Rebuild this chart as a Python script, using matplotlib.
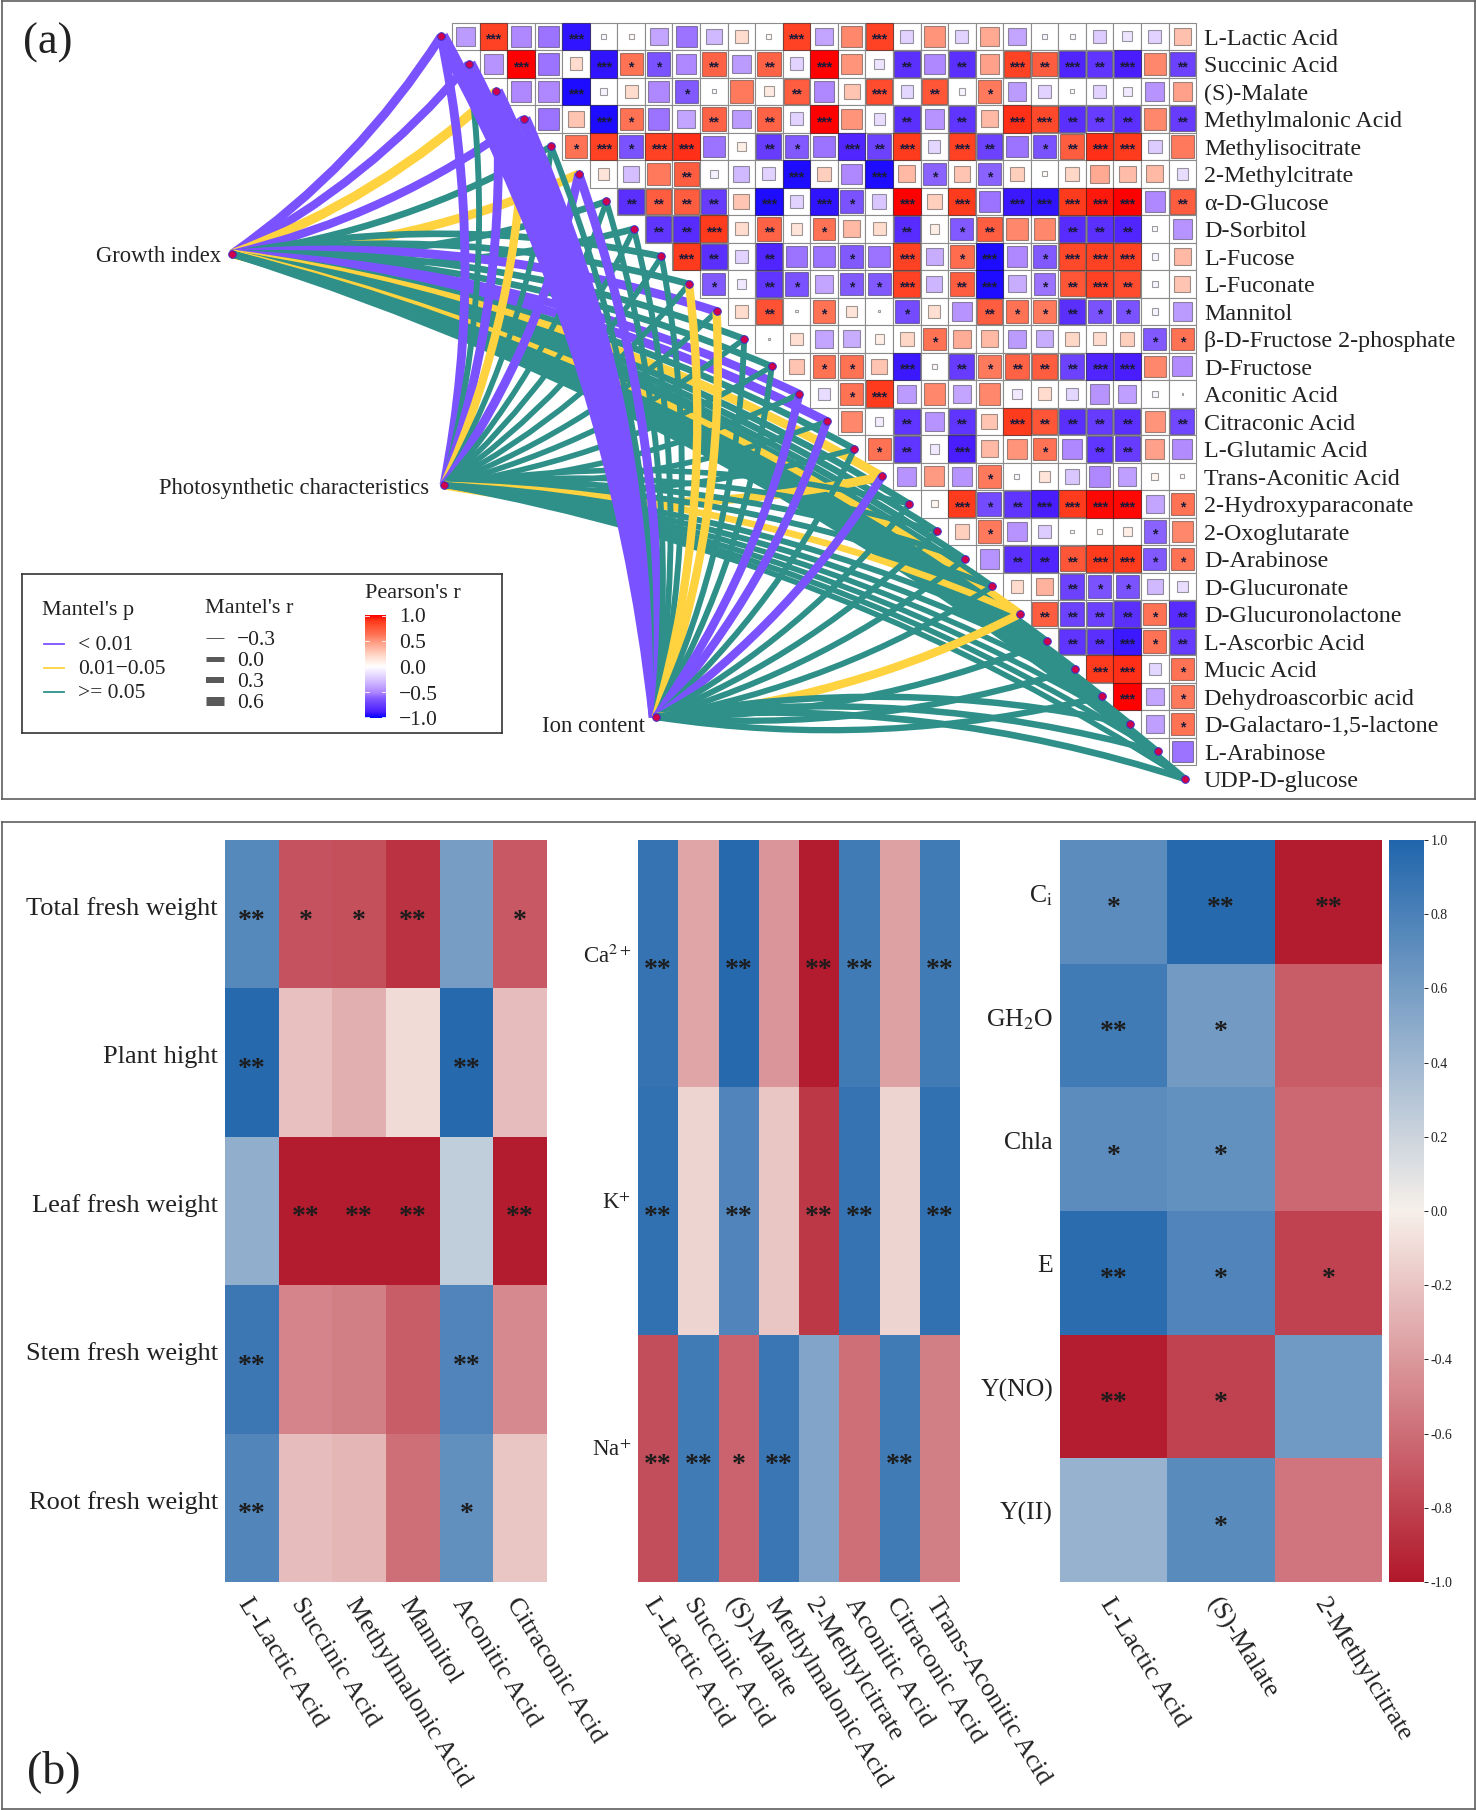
"""Mantel test network with correlation matrix (a) and metabolite heatmaps (b)."""
import numpy as np
import matplotlib
matplotlib.use('Agg')
from matplotlib import pyplot as plt
from matplotlib.colors import LinearSegmentedColormap
from matplotlib.patches import PathPatch, Rectangle
from matplotlib.path import Path
from matplotlib.transforms import ScaledTranslation

plt.rcParams['font.family'] = ['Liberation Serif', 'DejaVu Serif']
plt.rcParams['mathtext.fontset'] = 'stix'

metabolites = ['L-Lactic Acid', 'Succinic Acid', '(S)-Malate', 'Methylmalonic Acid', 'Methylisocitrate',
               '2-Methylcitrate', 'α-D-Glucose', 'D-Sorbitol', 'L-Fucose', 'L-Fuconate', 'Mannitol',
               'β-D-Fructose 2-phosphate', 'D-Fructose', 'Aconitic Acid', 'Citraconic Acid', 'L-Glutamic Acid',
               'Trans-Aconitic Acid', '2-Hydroxyparaconate', '2-Oxoglutarate', 'D-Arabinose', 'D-Glucuronate',
               'D-Glucuronolactone', 'L-Ascorbic Acid', 'Mucic Acid', 'Dehydroascorbic acid',
               'D-Galactaro-1,5-lactone', 'L-Arabinose', 'UDP-D-glucose']

# upper triangle of the correlation matrix, row i holds columns i..26
pearson_r = [
    [-.42, .85, -.5, -.55, -.92, -.03, .03, -.38, -.55, -.3, .2, .03, .85, -.38, .55, .85, -.2, .5, -.2, .42, -.38, -.04, -.03, -.22, -.12, -.2, .32],
    [-.45, 1, -.55, .2, -.92, .62, -.65, -.5, .7, -.42, .7, -.2, 1, .5, -.12, -.8, -.5, -.8, .45, .85, .72, -.85, -.78, -.88, .55, -.72],
    [-.5, -.5, -.95, -.05, .2, -.5, -.62, -.02, .6, .12, .72, -.5, .3, .8, -.18, .75, -.05, .6, -.42, -.2, .02, -.2, -.1, -.45, .45],
    [-.55, .3, -.95, .62, -.55, -.38, .7, -.42, .7, -.2, 1, .5, -.15, -.8, -.45, -.78, .35, .9, .82, -.8, -.75, -.8, .55, -.75],
    [.62, .85, -.65, .85, .9, -.55, .1, -.75, -.62, -.55, -.85, -.72, .88, -.18, .85, -.72, -.55, -.65, .72, .9, .88, -.22, .6],
    [.15, -.28, .6, .72, -.07, -.3, -.2, -.95, .25, -.5, -.95, .35, -.6, .3, -.6, .25, .03, .22, .42, .33, .35, -.15],
    [-.8, .72, .72, -.75, .3, -.95, -.2, -.92, -.65, -.25, 1, .25, .88, -.55, -.9, -.92, .88, .95, 1, -.5, .72],
    [-.78, -.82, .88, .2, .7, .15, .62, .35, .2, -.82, .1, -.62, .72, .55, .55, -.82, -.8, -.85, -.03, -.45],
    [.88, -.8, -.2, -.85, -.55, -.55, -.62, -.55, .85, -.35, .65, -.95, -.5, -.62, .82, .85, .85, -.05, .35],
    [-.62, -.1, -.78, -.65, -.38, -.62, -.62, .85, -.32, .72, -.95, -.35, -.55, .75, .85, .8, -.05, .3],
    [.2, .78, .005, .62, .15, -.005, -.68, .18, -.45, .72, .62, .6, -.8, -.65, -.65, -.05, -.42],
    [.005, .18, -.38, -.35, .1, .22, .62, .4, .35, -.42, -.35, .22, .2, .25, -.62, .62],
    [.3, .62, .62, .3, -.9, .03, -.75, .6, .7, .72, -.72, -.85, -.88, .55, -.48],
    [-.15, .62, .88, -.42, .55, -.38, .55, -.1, .2, -.18, -.45, -.4, -.04, -.003],
    [.55, -.08, -.78, -.45, -.78, .3, .88, .75, -.8, -.75, -.8, .5, -.7],
    [.62, -.78, -.1, -.88, .35, .5, .62, -.5, -.78, -.75, .45, -.48],
    [-.45, .48, -.45, .6, -.03, .15, -.25, -.5, -.4, .06, .02],
    [.06, .88, -.68, -.78, -.88, .88, .98, .98, -.38, .62],
    [.25, .6, -.45, -.22, .015, .03, .1, -.6, .55],
    [-.45, -.8, -.85, .75, .88, .88, -.62, .62],
    [.2, .38, -.72, -.65, -.65, -.3, -.15],
    [.72, -.72, -.72, -.8, .62, -.82],
    [-.78, -.8, -.9, .62, -.75],
    [.88, .9, -.18, .62],
    [1, -.38, .6],
    [-.4, .62],
    [-.55],
]
pearson_stars = [
    '030030000000300300000000000',
    '03003110202030020203232302',
    '0030001000200302010000000',
    '003100202030020203322202',
    '13133002103230320123300',
    '0002000300301010000000',
    '222203031030303333302',
    '22302010020120022200',
    '3202001030130133300',
    '102101130230123200',
    '02010010021121100',
    '0000001000000011',
    '011030212223300',
    '01300000000000',
    '0020203222202',
    '120300102200',
    '00010000000',
    '0312333301',
    '010000010',
    '02223311',
    '0021100',
    '222212',
    '22312',
    '3301',
    '301',
    '01',
    '0',
]

hubs = ['Growth index', 'Photosynthetic characteristics', 'Ion content']
hub_col = [-7.98, -0.29, 7.40]
hub_row = [8.41, 16.81, 25.25]
hub_label_dx = [-0.4, -0.55, -0.4]
hub_label_dy = [0.08, 0.13, 0.33]

# Mantel p class per metabolite: 0 < 0.01, 1 0.01-0.05, 2 >= 0.05
mantel_p = [
    [0, 0, 1, 0, 2, 1, 2, 2, 2, 2, 0, 2, 2, 0, 0, 2, 1, 2, 2, 2, 2, 1, 2, 2, 2, 2, 2, 2],
    [0, 2, 0, 1, 2, 0, 2, 2, 2, 2, 2, 2, 2, 2, 2, 2, 1, 2, 2, 2, 2, 1, 2, 2, 2, 2, 2, 2],
    [0, 0, 0, 0, 2, 0, 2, 2, 2, 1, 1, 2, 2, 0, 0, 2, 0, 2, 2, 2, 2, 1, 2, 2, 2, 2, 2, 2],
]
mantel_r = [
    [.5, .45, .55, .45, .3, .5, .3, .3, .3, .3, .5, .3, .3, .45, .5, .3, .5, .3, .3, .3, .3, .5, .3, .3, .3, .3, .3, .3],
    [.5, .1, .5, .45, 0, .5, 0, 0, 0, 0, 0, 0, 0, 0, 0, 0, .5, 0, 0, .1, .1, .3, .1, .1, 0, 0, 0, 0],
    [.9, .9, .85, .85, .1, .5, .1, .1, .1, .45, .45, .1, .1, .45, .45, .1, .45, .1, .1, .1, .1, .45, .2, .2, .2, .25, .25, .3],
]

p_labels = ['< 0.01', '0.01−0.05', '>= 0.05']
p_colors = ['#7B52FF', '#FFD23F', '#2E9089']
r_labels = ['−0.3', '0.0', '0.3', '0.6']
r_values = [-.3, 0, .3, .6]
corr_ticks = ['1.0', '0.5', '0.0', '−0.5', '−1.0']

growth_rows = ['Total fresh weight', 'Plant hight', 'Leaf fresh weight', 'Stem fresh weight', 'Root fresh weight']
growth_cols = ['L-Lactic Acid', 'Succinic Acid', 'Methylmalonic Acid', 'Mannitol', 'Aconitic Acid', 'Citraconic Acid']
growth_vals = [[.75, -.72, -.74, -.87, .6, -.7],
               [.97, -.22, -.3, -.1, .97, -.24],
               [.47, -.98, -.98, -.98, .25, -.98],
               [.87, -.5, -.53, -.68, .78, -.47],
               [.77, -.24, -.27, -.6, .7, -.2]]
growth_stars = [[2, 1, 1, 2, 0, 1], [2, 0, 0, 0, 2, 0], [0, 2, 2, 2, 0, 2], [2, 0, 0, 0, 2, 0], [2, 0, 0, 0, 1, 0]]

ion_rows = ['Ca$^{2+}$', 'K$^{+}$', 'Na$^{+}$']
ion_cols = ['L-Lactic Acid', 'Succinic Acid', '(S)-Malate', 'Methylmalonic Acid', '2-Methylcitrate',
            'Aconitic Acid', 'Citraconic Acid', 'Trans-Aconitic Acid']
ion_vals = [[.9, -.35, .97, -.42, -.98, .85, -.37, .85],
            [.92, -.13, .78, -.2, -.85, .9, -.13, .92],
            [-.75, .85, -.65, .88, .55, -.6, .85, -.53]]
ion_stars = [[2, 0, 2, 0, 2, 2, 0, 2], [2, 0, 2, 0, 2, 2, 0, 2], [2, 2, 1, 2, 0, 0, 2, 0]]

photo_rows = ['C$_{\\mathrm{i}}$', 'GH$_{2}$O', 'Chla', 'E', 'Y(NO)', 'Y(II)']
photo_cols = ['L-Lactic Acid', '(S)-Malate', '2-Methylcitrate']
photo_vals = [[.72, .97, -.98], [.85, .62, -.68], [.72, .69, -.63], [.95, .78, -.8], [-.97, -.8, .63], [.45, .73, -.57]]
photo_stars = [[1, 2, 2], [2, 1, 0], [1, 1, 0], [2, 1, 1], [2, 1, 0], [0, 1, 0]]
bar_ticks = [1.0, .8, .6, .4, .2, 0.0, -.2, -.4, -.6, -.8, -1.0]

W, H = 1476, 1810
DARK = '#222222'
FRAME = '#5f5f5f'
cell_w, cell_h = 27.56, 27.5
grid_x0, grid_y0 = 452, 22.7

corr_cmap = LinearSegmentedColormap.from_list('corr', [
    (0, '#0000FF'), (.06, '#4B1EFF'), (.19, '#825AFF'), (.25, '#AF87FF'), (.4, '#E1D2FF'), (.5, '#FFFFFF'),
    (.6, '#FFDCCD'), (.75, '#FF967D'), (.81, '#FF7355'), (.94, '#FF3C1E'), (1, '#FF0000')])
heat_cmap = LinearSegmentedColormap.from_list('heat', ['#B2182B', '#F7F0EA', '#2166AC'])

fig = plt.figure(figsize=(W / 100, H / 100), dpi=100)


def px_axes(x0, y0, x1, y1, **kw):
    return fig.add_axes([x0 / W, 1 - y1 / H, (x1 - x0) / W, (y1 - y0) / H], **kw)


def link_width(r):
    return np.interp(r, [-.3, 0, .3, .6, .9], [1, 5, 6, 9, 13])


def curved_link(ax, start, end, color, lw, bend=0.1):
    sx, sy = start
    ex, ey = end
    dx, dy = ex - sx, ey - sy
    # the arc always bows towards the right of the panel
    if dy >= 0:
        nx, ny = dy, -dx
    else:
        nx, ny = -dy, dx
    ctrl = ((sx + ex) / 2 + bend * nx, (sy + ey) / 2 + bend * ny)
    path = Path([start, ctrl, end], [Path.MOVETO, Path.CURVE3, Path.CURVE3])
    ax.add_patch(PathPatch(path, fc='none', ec=color, lw=lw, capstyle='butt', zorder=2))


# ---------- panel (a) ----------
ax = px_axes(2, 1, 1475, 799)
ax.set_xlim((2 - grid_x0) / cell_w, (1475 - grid_x0) / cell_w)
ax.set_ylim((799 - grid_y0) / cell_h, (1 - grid_y0) / cell_h)
ax.set_xticks([])
ax.set_yticks([])
for s in ax.spines.values():
    s.set_color(FRAME)
    s.set_linewidth(1.2)

for i, row in enumerate(pearson_r):
    for k, r in enumerate(row):
        col = i + k
        ax.add_patch(Rectangle((col, i), 1, 1, fc='white', ec='#8c8c8c', lw=0.8, zorder=1))
        side = min(1, np.sqrt(abs(r)) * 1.05)
        off = (1 - side) / 2
        ax.add_patch(Rectangle((col + off, i + off), side, side, fc=corr_cmap((r + 1) / 2),
                               ec='#00000060', lw=0.8, zorder=1.5))
        stars = int(pearson_stars[i][k])
        if stars:
            ax.text(col + .5, i + .62, '*' * stars, ha='center', va='center', fontsize=10,
                    fontweight='bold', color='#1a1a3a', zorder=1.6, family='Liberation Sans')

node_col = np.arange(len(metabolites)) - 0.4
node_row = np.arange(len(metabolites)) + 0.5
for h in range(len(hubs)):
    for m in range(len(metabolites)):
        curved_link(ax, (hub_col[h], hub_row[h]), (node_col[m], node_row[m]),
                    p_colors[mantel_p[h][m]], link_width(mantel_r[h][m]) * 0.8)
ax.scatter(list(node_col) + hub_col, list(node_row) + hub_row, s=30, c='#D0004A', edgecolors='#3A30C8',
           linewidths=0.7, zorder=3)
for m, name in enumerate(metabolites):
    ax.text(27.28, m + .6, name, ha='left', va='center', fontsize=17.3, color=DARK, zorder=4)
for h, name in enumerate(hubs):
    ax.text(hub_col[h] + hub_label_dx[h], hub_row[h] + hub_label_dy[h], name, ha='right', va='center',
            fontsize=16.3, color=DARK, zorder=4)
fig.text(23 / W, 1 - 43 / H, '(a)', fontsize=32, va='center', color=DARK, zorder=10)

# legend box, its axes is in figure pixels
leg = px_axes(22, 574, 502, 733, zorder=5)
leg.set_xticks([])
leg.set_yticks([])
for s in leg.spines.values():
    s.set_color('#333333')
    s.set_linewidth(1.2)
leg.text(42, 611, "Mantel's p", fontsize=16, va='center', color=DARK)
for n, (lab, col) in enumerate(zip(p_labels, p_colors)):
    y = 644 + 24 * n
    leg.plot([44, 64], [y, y], color=col, lw=1.3)
    leg.text(78, y + 2, lab, fontsize=15.5, va='center', color=DARK)
leg.text(205, 609, "Mantel's r", fontsize=16, va='center', color=DARK)
for n, (lab, r) in enumerate(zip(r_labels, r_values)):
    y = 638 + 21 * n
    leg.plot([206, 224], [y, y], color='#595959', lw=link_width(r) * 0.72, solid_capstyle='butt')
    leg.text(237, y + 3, lab, fontsize=15.5, va='center', color=DARK)
leg.text(365, 594, "Pearson's r", fontsize=16, va='center', color=DARK)
gradient = np.linspace(1, -1, 256).reshape(-1, 1)
leg.imshow(gradient, cmap=corr_cmap, vmin=-1, vmax=1, extent=(365, 386, 718, 615), aspect='auto', zorder=2)
leg.set_xlim(22, 502)
leg.set_ylim(733, 574)
for n, lab in enumerate(corr_ticks):
    y = 616 + 25.3 * n
    leg.text(399, y + 2 + n * 0.4, lab, fontsize=15.5, va='center', color=DARK)
    leg.plot([365, 369], [y, y], color='white', lw=0.6, zorder=3)
    leg.plot([382, 386], [y, y], color='white', lw=0.6, zorder=3)

# ---------- panel (b) ----------
frame_b = px_axes(2, 822, 1475, 1809)
frame_b.set_xticks([])
frame_b.set_yticks([])
for s in frame_b.spines.values():
    s.set_color(FRAME)
    s.set_linewidth(1.2)
fig.text(27 / W, 1 - 1772 / H, '(b)', fontsize=33, va='center', color=DARK, zorder=10)


def heat_panel(x0, x1, rows, cols, vals, stars, label_dy, row_size):
    hax = px_axes(x0, 840, x1, 1582)
    vals = np.array(vals)
    hax.pcolormesh(np.arange(len(cols) + 1), np.arange(len(rows) + 1), vals, cmap=heat_cmap, vmin=-1, vmax=1)
    hax.set_ylim(len(rows), 0)
    for s in hax.spines.values():
        s.set_visible(False)
    hax.set_xticks(np.arange(len(cols)) + .5)
    hax.set_yticks(np.arange(len(rows)) + .5)
    hax.tick_params(length=0, pad=5)
    hax.set_yticklabels(rows, fontsize=row_size, color=DARK)
    hax.set_xticklabels(cols, fontsize=19, color=DARK, rotation=-58, ha='left', va='center',
                        rotation_mode='anchor')
    for lab in hax.get_xticklabels():
        lab.set_transform(lab.get_transform() + ScaledTranslation(-0.09, -0.11, fig.dpi_scale_trans))
    for lab in hax.get_yticklabels():
        lab.set_transform(lab.get_transform() + ScaledTranslation(0, label_dy, fig.dpi_scale_trans))
    for i in range(len(rows)):
        for j in range(len(cols)):
            if stars[i][j]:
                hax.annotate('*' * stars[i][j], (j + .5, i + .5), xytext=(0, -5), textcoords='offset points',
                             ha='center', va='center', fontsize=20, fontweight='bold', color='#1c1c1c')
    return hax


heat_panel(225, 547, growth_rows, growth_cols, growth_vals, growth_stars, 0.08, 19)
heat_panel(638, 960, ion_rows, ion_cols, ion_vals, ion_stars, 0.10, 16.5)
heat_panel(1060, 1382, photo_rows, photo_cols, photo_vals, photo_stars, 0.09, 18.5)

cax = px_axes(1389, 840, 1424, 1582)
cax.imshow(gradient, cmap=heat_cmap, vmin=-1, vmax=1, extent=(0, 1, -1, 1), aspect='auto')
cax.set_xticks([])
cax.yaxis.tick_right()
cax.set_yticks(bar_ticks)
cax.set_yticklabels(['%.1f' % t for t in bar_ticks], fontsize=10, color=DARK)
cax.tick_params(length=3, width=0.6, pad=2)
for s in cax.spines.values():
    s.set_visible(False)

fig.savefig('out.png', dpi=100)
